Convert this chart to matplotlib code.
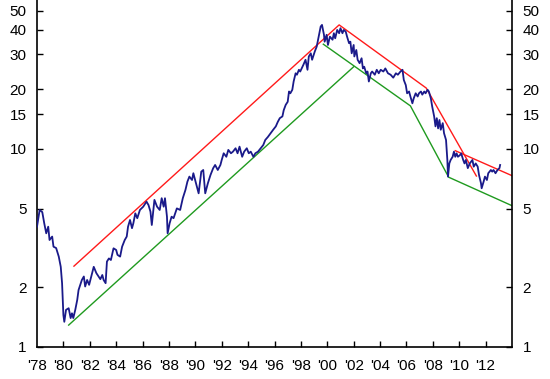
import matplotlib
matplotlib.use("Agg")
import matplotlib.pyplot as plt
from matplotlib.ticker import FixedLocator, NullLocator

# ---- data ----
years = [1978.0, 1978.2, 1978.4, 1978.55, 1978.7, 1978.85, 1978.95, 1979.15, 1979.25, 1979.45,
         1979.65, 1979.8, 1979.9, 1980.0, 1980.07, 1980.2, 1980.4, 1980.55, 1980.65, 1980.75,
         1980.9, 1981.05, 1981.15, 1981.4, 1981.55, 1981.65, 1981.8, 1981.95, 1982.2, 1982.3,
         1982.5, 1982.7, 1982.8, 1982.95, 1983.05, 1983.2, 1983.3, 1983.45, 1983.6, 1983.8,
         1984.0, 1984.1, 1984.3, 1984.45, 1984.65, 1984.8, 1984.9, 1985.05, 1985.2, 1985.3,
         1985.45, 1985.6, 1985.8, 1986.05, 1986.3, 1986.45, 1986.6, 1986.7, 1986.9, 1987.1,
         1987.3, 1987.45, 1987.6, 1987.7, 1987.85, 1987.9, 1988.05, 1988.2, 1988.35, 1988.6,
         1988.85, 1989.05, 1989.25, 1989.4, 1989.55, 1989.75, 1989.85, 1990.05, 1990.25, 1990.45,
         1990.6, 1990.7, 1990.75, 1990.95, 1991.15, 1991.35, 1991.5, 1991.7, 1991.9, 1992.0,
         1992.15, 1992.35, 1992.5, 1992.7, 1992.85, 1993.05, 1993.2, 1993.35, 1993.55, 1993.7,
         1993.9, 1994.05, 1994.2, 1994.4, 1994.55, 1994.75, 1994.95, 1995.15, 1995.3, 1995.5,
         1995.7, 1995.9, 1996.1, 1996.25, 1996.4, 1996.6, 1996.7, 1996.85, 1997.0, 1997.1,
         1997.2, 1997.35, 1997.45, 1997.6, 1997.7, 1997.85, 1997.95, 1998.2, 1998.35, 1998.5,
         1998.6, 1998.75, 1998.85, 1999.05, 1999.2, 1999.35, 1999.5, 1999.6, 1999.75, 1999.8,
         1999.95, 2000.05, 2000.2, 2000.4, 2000.5, 2000.6, 2000.75, 2000.9, 2001.0, 2001.15,
         2001.25, 2001.4, 2001.5, 2001.65, 2001.75, 2001.85, 2002.0, 2002.05, 2002.2, 2002.3,
         2002.45, 2002.6, 2002.7, 2002.8, 2002.95, 2003.05, 2003.15, 2003.3, 2003.4, 2003.6,
         2003.75, 2003.9, 2004.05, 2004.25, 2004.4, 2004.6, 2004.8, 2005.0, 2005.2, 2005.35,
         2005.55, 2005.7, 2005.8, 2005.95, 2006.05, 2006.2, 2006.3, 2006.45, 2006.55, 2006.7,
         2006.85, 2006.95, 2007.1, 2007.2, 2007.35, 2007.45, 2007.6, 2007.7, 2007.85, 2007.95,
         2008.1, 2008.2, 2008.3, 2008.4, 2008.5, 2008.6, 2008.75, 2008.85, 2009.0, 2009.05,
         2009.1, 2009.15, 2009.25, 2009.35, 2009.5, 2009.6, 2009.7, 2009.8, 2009.9, 2010.05,
         2010.15, 2010.3, 2010.4, 2010.5, 2010.65, 2010.8, 2011.0, 2011.1, 2011.25, 2011.4,
         2011.5, 2011.65, 2011.7, 2011.85, 2011.95, 2012.1, 2012.2, 2012.4, 2012.5, 2012.6,
         2012.75, 2012.9, 2013.05, 2013.1]
values = [4.05, 4.92, 4.8, 4.21, 3.75, 4.05, 3.47, 3.61, 3.21, 3.16,
          2.86, 2.54, 2.10, 1.45, 1.34, 1.54, 1.57, 1.40, 1.48, 1.40,
          1.54, 1.73, 1.94, 2.18, 2.27, 2.02, 2.18, 2.06, 2.40, 2.54,
          2.36, 2.25, 2.20, 2.31, 2.18, 2.10, 2.70, 2.80, 2.75, 3.15,
          3.09, 2.92, 2.86, 3.21, 3.47, 3.61, 4.05, 4.38, 3.98, 4.21,
          4.73, 4.47, 4.92, 5.11, 5.42, 5.21, 4.82, 4.13, 5.53, 5.11,
          4.92, 5.64, 5.11, 5.64, 4.55, 3.75, 4.21, 4.55, 4.47, 5.01,
          4.92, 5.64, 6.21, 6.84, 7.25, 6.97, 7.54, 6.71, 5.97, 7.68,
          7.83, 6.58, 5.97, 6.71, 7.39, 7.99, 8.3, 7.83, 8.3, 8.8,
          9.51, 9.13, 9.89, 9.51, 9.69, 10.08, 9.51, 10.27, 9.13, 9.69,
          10.08, 9.51, 9.69, 9.13, 9.51, 9.69, 10.08, 10.47, 11.1, 11.5,
          12.0, 12.5, 13.0, 13.7, 14.3, 14.6, 15.7, 16.7, 17.3, 19.5,
          19.1, 19.9, 21.9, 24.1, 23.7, 25.1, 24.6, 26.7, 28.2, 25.1,
          29.3, 30.4, 28.2, 31.0, 32.9, 36.9, 41.5, 42.3, 37.7, 34.8,
          37.7, 33.5, 36.9, 35.6, 38.4, 36.2, 39.9, 38.4, 40.7, 38.4,
          39.9, 39.1, 36.9, 34.2, 34.8, 30.4, 33.5, 29.3, 31.6, 28.2,
          27.1, 28.7, 25.5, 26.0, 24.1, 24.6, 21.9, 24.1, 24.6, 23.7,
          25.1, 24.1, 25.1, 24.6, 25.5, 24.1, 23.7, 22.9, 24.1, 23.7,
          24.6, 25.1, 22.3, 21.0, 19.1, 19.5, 18.4, 17.0, 18.0, 19.1,
          18.4, 19.1, 19.5, 18.8, 19.5, 19.1, 19.9, 19.5, 18.0, 16.4,
          14.6, 13.0, 14.3, 12.7, 14.0, 12.5, 13.5, 12.0, 11.1, 9.89,
          8.8, 7.25, 8.45, 8.8, 9.13, 9.69, 9.13, 9.5, 9.13, 9.3,
          9.5, 8.8, 8.45, 8.8, 8.0, 8.45, 8.8, 8.14, 8.45, 8.14,
          7.39, 6.71, 6.33, 6.84, 7.25, 6.97, 7.54, 7.83, 7.68, 7.83,
          7.54, 7.83, 8.0, 8.3]

# upper trend lines (red)
red1_years = [1980.8, 2000.9, 2007.5, 2011.3]
red1_values = [2.56, 42.3, 20.3, 7.3]
red2_years = [2009.7, 2014.0]
red2_values = [9.8, 7.33]

# lower trend lines (green)
green1_years = [1980.4, 2002.0]
green1_values = [1.29, 26.0]
green2_years = [1999.7, 2006.3, 2009.2, 2014.0]
green2_values = [33.8, 16.5, 7.2, 5.17]

x_ticks = list(range(1980, 2013, 2))
x_labels = ["'78", "'80", "'82", "'84", "'86", "'88", "'90", "'92", "'94", "'96", "'98",
            "'00", "'02", "'04", "'06", "'08", "'10", "'12"]
label_years = list(range(1978, 2013, 2))
y_ticks = [1, 2, 5, 10, 15, 20, 30, 40, 50]
y_labels = ["1", "2", "5", "10", "15", "20", "30", "40", "50"]

plt.rcParams['font.family'] = ['Liberation Sans', 'DejaVu Sans']

fig = plt.figure(figsize=(5.5, 3.79), dpi=100)
ax = fig.add_axes([37/550, 32/379, (512-37)/550, 347/379])

ax.plot(years, values, color='#1a1a8a', lw=1.3, zorder=3)
ax.plot(red1_years, red1_values, color='#ff1a1a', lw=1.0, zorder=2)
ax.plot(red2_years, red2_values, color='#ff1a1a', lw=1.0, zorder=2)
ax.plot(green1_years, green1_values, color='#1f9a1f', lw=1.0, zorder=2)
ax.plot(green2_years, green2_values, color='#1f9a1f', lw=1.0, zorder=2)

ax.set_yscale('log')
ax.set_ylim(1, 56.5)
ax.set_xlim(1978, 2014)

ax.yaxis.set_major_locator(FixedLocator(y_ticks))
ax.yaxis.set_minor_locator(NullLocator())
ax.set_yticklabels(y_labels)
ax.xaxis.set_major_locator(FixedLocator(x_ticks))
ax.xaxis.set_minor_locator(NullLocator())
ax.set_xticklabels([])

ax.tick_params(axis='y', which='both', direction='in', length=4, width=1,
               left=True, right=True, labelleft=True, labelright=True,
               labelsize=11, pad=7.5)
ax.tick_params(axis='x', direction='in', length=4, width=1, labelsize=11)

for lx, lab in zip(label_years, x_labels):
    ax.text(lx, -0.036, lab, transform=ax.get_xaxis_transform(), ha='center', va='top',
            fontsize=11)

ax.spines['top'].set_visible(False)
for s in ['left', 'right', 'bottom']:
    ax.spines[s].set_linewidth(1.2)
    ax.spines[s].set_color('black')

fig.savefig('out.png', dpi=100)
